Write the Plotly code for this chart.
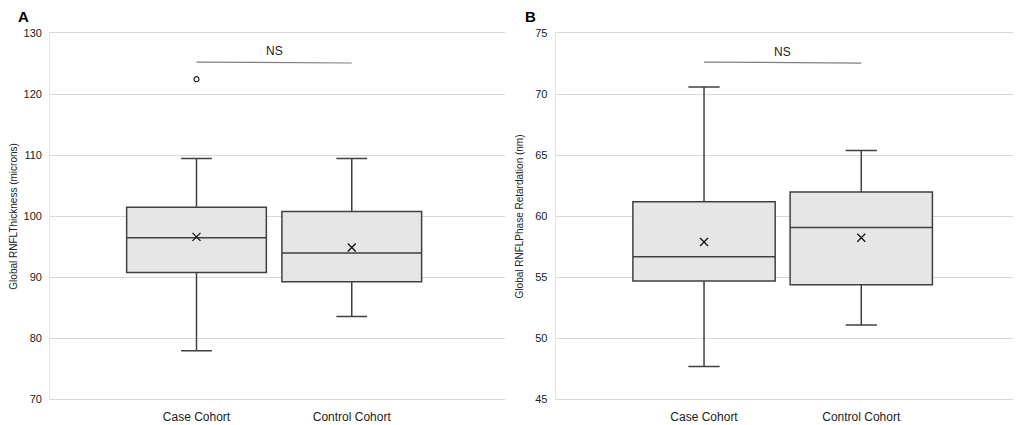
import plotly.graph_objects as go

# Datos
cohorts = ["Case Cohort", "Control Cohort"]
cohort_x = [0, 1]

# Panel A: Global RNFL Thickness (microns)
a_lower = [78.0, 83.6]
a_q1 = [90.8, 89.3]
a_median = [96.5, 94.0]
a_q3 = [101.5, 100.8]
a_upper = [109.5, 109.5]
a_mean = [96.65, 94.9]
a_outlier_x = [0]
a_outlier_y = [122.5]
a_ns_y = [125.3, 125.15]

# Panel B: Global RNFL Phase Retardation (nm)
b_lower = [47.7, 51.1]
b_q1 = [54.7, 54.4]
b_median = [56.7, 59.1]
b_q3 = [61.2, 62.0]
b_upper = [70.6, 65.4]
b_mean = [57.9, 58.25]
b_ns_y = [72.65, 72.57]

FILL = "#e6e6e6"
EDGE = "#404040"
GRID = "#d9d9d9"
FONT = "Liberation Sans, Arial, sans-serif"

fig = go.Figure()


def add_panel(xa, ya, lower, q1, med, q3, upper, mean, ns_y, box_w):
    fig.add_trace(go.Box(
        x=cohort_x, lowerfence=lower, q1=q1, median=med, q3=q3,
        upperfence=upper, width=box_w, whiskerwidth=0.22,
        fillcolor=FILL, line=dict(color=EDGE, width=1.5),
        boxpoints=False, showlegend=False, hoverinfo="skip",
        xaxis=xa, yaxis=ya,
    ))
    fig.add_trace(go.Scatter(
        x=cohort_x, y=mean, mode="markers",
        marker=dict(symbol="x-thin", size=8, color="#111111",
                    line=dict(color="#111111", width=1.3)),
        showlegend=False, xaxis=xa, yaxis=ya,
    ))
    # línea de comparación "NS"
    fig.add_trace(go.Scatter(
        x=cohort_x, y=ns_y, mode="lines",
        line=dict(color="#7f7f7f", width=1.2),
        showlegend=False, xaxis=xa, yaxis=ya,
    ))


add_panel("x", "y", a_lower, a_q1, a_median, a_q3, a_upper, a_mean, a_ns_y, 0.9)
fig.add_trace(go.Scatter(
    x=a_outlier_x, y=a_outlier_y, mode="markers",
    marker=dict(symbol="circle-open", size=5, color="#222222",
                line=dict(color="#222222", width=1.2)),
    showlegend=False, xaxis="x", yaxis="y",
))
add_panel("x2", "y2", b_lower, b_q1, b_median, b_q3, b_upper, b_mean, b_ns_y, 0.905)

xcommon = dict(
    tickmode="array", tickvals=cohort_x, ticktext=cohorts,
    showgrid=False, zeroline=False,
    showline=True, mirror=True, linecolor=GRID, linewidth=1.3,
    ticks="", ticklabelstandoff=6, tickfont=dict(size=12, color="#222222"),
)
ycommon = dict(
    showgrid=True, gridcolor=GRID, gridwidth=1.3, zeroline=False,
    showline=True, linecolor="#e6e6e6", linewidth=1.2,
    ticks="", ticklabelstandoff=5,
    tickfont=dict(size=11, color="#222222"),
    title_font=dict(size=10, color="#222222"), title_standoff=9,
)

fig.update_layout(
    width=1021, height=425,
    margin=dict(l=0, r=0, t=0, b=0),
    paper_bgcolor="white", plot_bgcolor="white",
    font=dict(family=FONT, color="#222222"),
    xaxis=dict(domain=[0.0319, 0.4817], anchor="y", range=[-0.942, 1.987], **xcommon),
    xaxis2=dict(domain=[0.5319, 0.9876], anchor="y2", range=[-0.943, 1.987], **xcommon),
    yaxis=dict(domain=[0.0667, 0.953], anchor="x", range=[70, 130], dtick=10,
               title_text="Global RNFLThickness (microns)", **ycommon),
    yaxis2=dict(domain=[0.0667, 0.953], anchor="x2", range=[45, 75], dtick=5,
                title_text="Global RNFLPhase Retardation (nm)", **ycommon),
    annotations=[
        dict(text="<b>A</b>", x=0.0, y=1.0, xref="paper", yref="paper",
             xanchor="left", yanchor="top", xshift=-2, yshift=8,
             showarrow=False, font=dict(size=15, color="black")),
        dict(text="<b>B</b>", x=0.4996, y=1.0, xref="paper", yref="paper",
             xanchor="left", yanchor="top", yshift=8,
             showarrow=False, font=dict(size=15, color="black")),
        dict(text="NS", x=0.5, y=127.1, xref="x", yref="y", showarrow=False,
             font=dict(size=12, color="#222222")),
        dict(text="NS", x=0.5, y=73.5, xref="x2", yref="y2", showarrow=False,
             font=dict(size=12, color="#222222")),
    ],
)

fig.write_html("out.html")
